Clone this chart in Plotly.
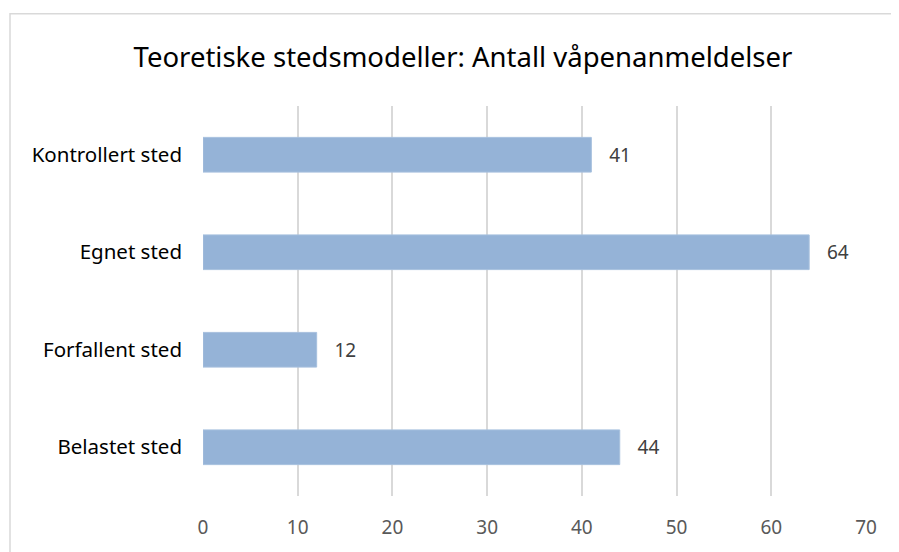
import plotly.graph_objects as go

categories = ["Belastet sted", "Forfallent sted", "Egnet sted", "Kontrollert sted"]
values = [44, 12, 64, 41]
x_ticks = [0, 10, 20, 30, 40, 50, 60, 70]
title_text = "Teoretiske stedsmodeller: Antall våpenanmeldelser"

FONT = "Noto Sans"

fig = go.Figure(
    go.Bar(
        y=categories,
        x=values,
        orientation="h",
        marker=dict(color="#95B3D7", line=dict(color="#A7C0DE", width=1)),
        text=values,
        texttemplate="   %{text}",
        textposition="outside",
        textfont=dict(family=FONT, size=19, color="#404040"),
        cliponaxis=False,
        hoverinfo="skip",
    )
)

fig.update_layout(
    width=891,
    height=544,
    margin=dict(l=195, r=33, t=98, b=53),
    paper_bgcolor="white",
    plot_bgcolor="white",
    bargap=0.644,
    showlegend=False,
    title=dict(
        text=title_text,
        x=455 / 891,
        xanchor="center",
        y=1 - 49 / 544,
        yanchor="middle",
        font=dict(family=FONT, size=27.5, color="#000000"),
    ),
    xaxis=dict(
        range=[0, 70],
        tickvals=x_ticks,
        ticktext=[str(t) for t in x_ticks],
        showgrid=True,
        gridcolor="#D9D9D9",
        gridwidth=1.5,
        zeroline=False,
        showline=False,
        ticks="",
        ticklabelstandoff=18,
        tickfont=dict(family=FONT, size=19, color="#595959"),
        fixedrange=True,
    ),
    yaxis=dict(
        showgrid=False,
        zeroline=False,
        showline=False,
        ticks="",
        ticklabelstandoff=20,
        tickfont=dict(family=FONT, size=20.5, color="#000000"),
        fixedrange=True,
    ),
    shapes=[
        dict(
            type="rect",
            xref="paper",
            yref="paper",
            x0=(10 - 203) / 663,
            x1=1.3,
            y0=-0.5,
            y1=(499 - 13) / 393,
            line=dict(color="#D9D9D9", width=1.5),
            fillcolor="rgba(0,0,0,0)",
            layer="below",
        )
    ],
)

fig.write_html("out.html")
